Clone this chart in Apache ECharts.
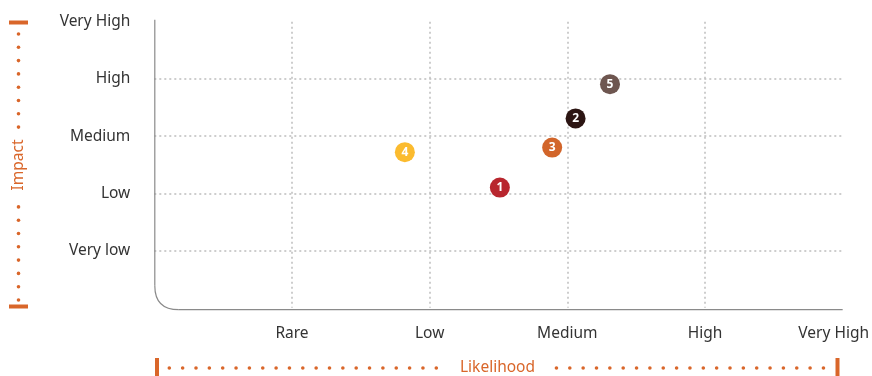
<!DOCTYPE html>
<html>
<head>
<meta charset="utf-8">
<script src="https://cdn.jsdelivr.net/npm/echarts@6/dist/echarts.min.js"></script>
<style>
  html, body { margin: 0; padding: 0; background: #fff; }
  #chart { width: 872px; height: 376px; }
</style>
</head>
<body>
<div id="chart"></div>
<script>
// Risk matrix: likelihood (x) against impact (y)
const likelihoodLabels = ['', 'Rare', 'Low', 'Medium', 'High', 'Very High'];
const impactLabels = ['', 'Very low', 'Low', 'Medium', 'High', 'Very High'];
const riskIds = [1, 2, 3, 4, 5];
const likelihood = [2.51, 3.06, 2.89, 1.82, 3.31];
const impact = [2.10, 3.31, 2.80, 2.72, 3.91];
const riskColors = ['#B8262E', '#2C1513', '#D2652A', '#FBBB2F', '#6E5650'];

const ORANGE = '#D9662A';
const FONT = 'Noto Sans';
const LABEL_SIZE = 15.5;

const chart = echarts.init(document.getElementById('chart'));

const points = riskIds.map((id, i) => ({
  value: [likelihood[i], impact[i]],
  name: String(id),
  itemStyle: { color: riskColors[i], opacity: 1 }
}));

const gridLine = {
  show: true,
  showMinLine: false,
  showMaxLine: false,
  lineStyle: { color: '#bdbdbd', width: 1.5, type: [2, 3] }
};

chart.setOption({
  animation: false,
  textStyle: { fontFamily: FONT },
  grid: { left: 154.3, right: 29, top: 21.8, bottom: 68.3 },
  xAxis: {
    type: 'value', min: 0, max: 5, interval: 1,
    axisLine: { show: false },
    axisTick: { show: false },
    splitLine: gridLine,
    axisLabel: {
      margin: 18,
      color: '#333',
      fontSize: LABEL_SIZE,
      fontFamily: FONT,
      formatter: v => {
        const t = likelihoodLabels[Math.round(v)] || '';
        return Math.round(v) === 5 ? '{last|' + t + '}' : t;
      },
      rich: { last: { color: '#333', fontSize: LABEL_SIZE, fontFamily: FONT, padding: [0, 18, 0, 0] } }
    }
  },
  yAxis: {
    type: 'value', min: 0, max: 5, interval: 1,
    axisLine: { show: false },
    axisTick: { show: false },
    splitLine: gridLine,
    axisLabel: {
      margin: 24,
      color: '#333',
      fontSize: LABEL_SIZE,
      fontFamily: FONT,
      padding: [3, 0, 0, 0],
      formatter: v => impactLabels[Math.round(v)] || ''
    }
  },
  series: [{
    type: 'scatter',
    symbol: 'circle',
    symbolSize: 20,
    data: points,
    itemStyle: { opacity: 1 },
    label: {
      show: true,
      position: 'inside',
      formatter: p => p.name,
      color: '#fff',
      fontWeight: 'bold',
      fontSize: 12,
      fontFamily: FONT
    }
  }]
});

// Axis frame with a rounded corner plus the decorated axis titles
function drawFrame() {
  const origin = chart.convertToPixel({ gridIndex: 0 }, [0, 0]);
  const topRight = chart.convertToPixel({ gridIndex: 0 }, [5, 5]);
  const x0 = origin[0] + 0.5;
  const y0 = origin[1] + 2;
  const top = topRight[1] - 2;
  const xEnd = topRight[0];
  const r = 24;
  const frameStyle = { stroke: '#8a8a8a', lineWidth: 1.2, fill: null };
  const els = [];

  els.push({ type: 'line', shape: { x1: x0, y1: top, x2: x0, y2: y0 - r }, style: frameStyle, silent: true });
  els.push({
    type: 'bezierCurve',
    shape: { x1: x0, y1: y0 - r, cpx1: x0, cpy1: y0, x2: x0 + r, y2: y0 },
    style: frameStyle, silent: true
  });
  els.push({ type: 'line', shape: { x1: x0 + r, y1: y0, x2: xEnd, y2: y0 }, style: frameStyle, silent: true });

  // Vertical "Impact" title
  const vx = 18.5, vTop = 22.5, vBot = 306.5, vMid = 165;
  els.push({ type: 'rect', shape: { x: vx - 9.5, y: vTop - 2, width: 19, height: 4 }, style: { fill: ORANGE }, silent: true });
  els.push({ type: 'rect', shape: { x: vx - 9.5, y: vBot - 2, width: 19, height: 4 }, style: { fill: ORANGE }, silent: true });
  for (let y = 34; y < vBot - 4; y += 13.3) {
    if (y > 132 && y < 200) continue;
    els.push({ type: 'circle', shape: { cx: vx, cy: y, r: 1.8 }, style: { fill: ORANGE }, silent: true });
  }
  els.push({
    type: 'text', x: vx, y: vMid, rotation: Math.PI / 2,
    style: { text: 'Impact', fill: ORANGE, fontSize: LABEL_SIZE, fontFamily: FONT, align: 'center', verticalAlign: 'middle' },
    silent: true
  });

  // Horizontal "Likelihood" title
  const hy = 368, hLeft = 157, hRight = 837.5, hMid = 497.5;
  els.push({ type: 'rect', shape: { x: hLeft - 2, y: hy - 10, width: 4, height: 20 }, style: { fill: ORANGE }, silent: true });
  els.push({ type: 'rect', shape: { x: hRight - 2, y: hy - 10, width: 4, height: 20 }, style: { fill: ORANGE }, silent: true });
  for (let x = 169.3; x < hRight - 6; x += 13.35) {
    if (x > 440 && x < 555) continue;
    els.push({ type: 'circle', shape: { cx: x, cy: hy, r: 1.8 }, style: { fill: ORANGE }, silent: true });
  }
  els.push({
    type: 'text', x: hMid, y: hy,
    style: { text: 'Likelihood', fill: ORANGE, fontSize: LABEL_SIZE, fontFamily: FONT, align: 'center', verticalAlign: 'middle' },
    silent: true
  });

  chart.setOption({ graphic: { elements: els } });
}
drawFrame();
</script>
</body>
</html>
